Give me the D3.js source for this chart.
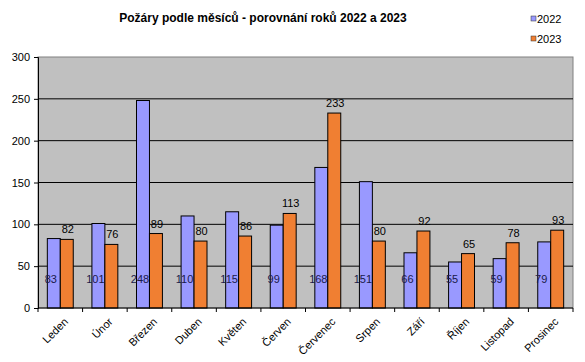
<!DOCTYPE html>
<html>
  <head>
    <script src="https://d3js.org/d3.v7.min.js"></script>
    <style>
      body { margin: 0; background: #fff; }
      text { font-family: "Liberation Sans", Arial, sans-serif; }
    </style>
  </head>
  <body>
    <svg width="585" height="362"></svg>
    <script>
      // Data
      const months = ["Leden", "Únor", "Březen", "Duben", "Květen", "Červen",
        "Červenec", "Srpen", "Září", "Říjen", "Listopad", "Prosinec"];
      const years = ["2022", "2023"];
      const values2022 = [83, 101, 248, 110, 115, 99, 168, 151, 66, 55, 59, 79];
      const values2023 = [82, 76, 89, 80, 86, 113, 233, 80, 92, 65, 78, 93];
      const yTicks = [0, 50, 100, 150, 200, 250, 300];
      const colors = ["#9999ff", "#f07f32"];

      const margin = { top: 57, right: 12, bottom: 54, left: 38 };
      const width = 585, height = 362;
      const svg = d3.select("svg");

      const x = d3.scaleBand().domain(months)
        .range([margin.left, width - margin.right]);
      const x1 = d3.scaleBand().domain(years)
        .range([0, x.bandwidth()]).paddingInner(0).paddingOuter(0.72);
      const y = d3.scaleLinear().domain([0, 300])
        .range([height - margin.bottom, margin.top]);

      // plot background
      svg.append("rect")
        .attr("x", margin.left).attr("y", margin.top)
        .attr("width", width - margin.left - margin.right)
        .attr("height", y(0) - margin.top)
        .attr("fill", "#c0c0c0").attr("stroke", "#808080");

      // gridlines
      svg.append("g").selectAll("line")
        .data(yTicks.filter(d => d > 0 && d < 300))
        .join("line")
        .attr("x1", margin.left).attr("x2", width - margin.right)
        .attr("y1", d => y(d)).attr("y2", d => y(d))
        .attr("stroke", "#000");

      const series = [values2022, values2023];
      const rows = months.map((m, i) => ({ month: m, vals: years.map((yr, j) => ({ yr, j, v: series[j][i] })) }));

      const groups = svg.append("g").selectAll("g")
        .data(rows).join("g")
        .attr("transform", d => `translate(${x(d.month)},0)`);

      groups.selectAll("rect")
        .data(d => d.vals).join("rect")
        .attr("x", d => x1(d.yr))
        .attr("y", d => y(d.v))
        .attr("width", x1.bandwidth())
        .attr("height", d => y(0) - y(d.v))
        .attr("fill", d => colors[d.j])
        .attr("stroke", "#000").attr("stroke-width", 1);

      // labels 2022 inside near base
      groups.append("text")
        .attr("x", x1("2022") + x1.bandwidth() / 2 - 3)
        .attr("y", y(0) - 25)
        .attr("text-anchor", "middle")
        .attr("font-size", 11)
        .attr("fill", "#1a1a4a")
        .text(d => d.vals[0].v);

      // labels 2023 above bar
      groups.append("text")
        .attr("x", x1("2023") + x1.bandwidth() / 2 + 1)
        .attr("y", d => y(d.vals[1].v) - 6)
        .attr("text-anchor", "middle")
        .attr("font-size", 11)
        .attr("fill", "#000")
        .text(d => d.vals[1].v);

      // axes
      const yAxis = d3.axisLeft(y).tickValues(yTicks).tickSize(4).tickPadding(4);
      svg.append("g")
        .attr("transform", `translate(${margin.left},0)`)
        .call(yAxis)
        .call(g => g.select(".domain").attr("stroke", "#000"))
        .call(g => g.selectAll("text").attr("font-size", 11).attr("fill", "#000")
          .style("font-family", "Liberation Sans, Arial, sans-serif"));

      const xAxisG = svg.append("g").attr("transform", `translate(0,${y(0)})`);
      xAxisG.append("line")
        .attr("x1", margin.left).attr("x2", width - margin.right)
        .attr("stroke", "#000");
      xAxisG.selectAll("line.tick")
        .data(months.concat([null]))
        .join("line").attr("class", "tick")
        .attr("x1", (d, i) => margin.left + i * x.step())
        .attr("x2", (d, i) => margin.left + i * x.step())
        .attr("y1", 0).attr("y2", 4)
        .attr("stroke", "#000");
      xAxisG.selectAll("text")
        .data(months).join("text")
        .attr("transform", d => `translate(${x(d) + x.bandwidth() / 2 + 3},${9}) rotate(-45)`)
        .attr("text-anchor", "end")
        .attr("dy", "0.7em")
        .attr("font-size", 11)
        .text(d => d);

      // title
      svg.append("text")
        .attr("x", 263).attr("y", 22)
        .attr("text-anchor", "middle")
        .attr("font-size", 12).attr("font-weight", "bold")
        .text("Požáry podle měsíců - porovnání roků 2022 a 2023");

      // legend
      const legend = svg.append("g").selectAll("g")
        .data(years).join("g")
        .attr("transform", (d, i) => `translate(531,${16 + i * 20})`);
      legend.append("rect")
        .attr("width", 5).attr("height", 5)
        .attr("fill", (d, i) => colors[i]).attr("stroke", "#333").attr("stroke-width", 0.5);
      legend.append("text")
        .attr("x", 6).attr("y", 7)
        .attr("font-size", 11)
        .text(d => d);
    </script>
  </body>
</html>
